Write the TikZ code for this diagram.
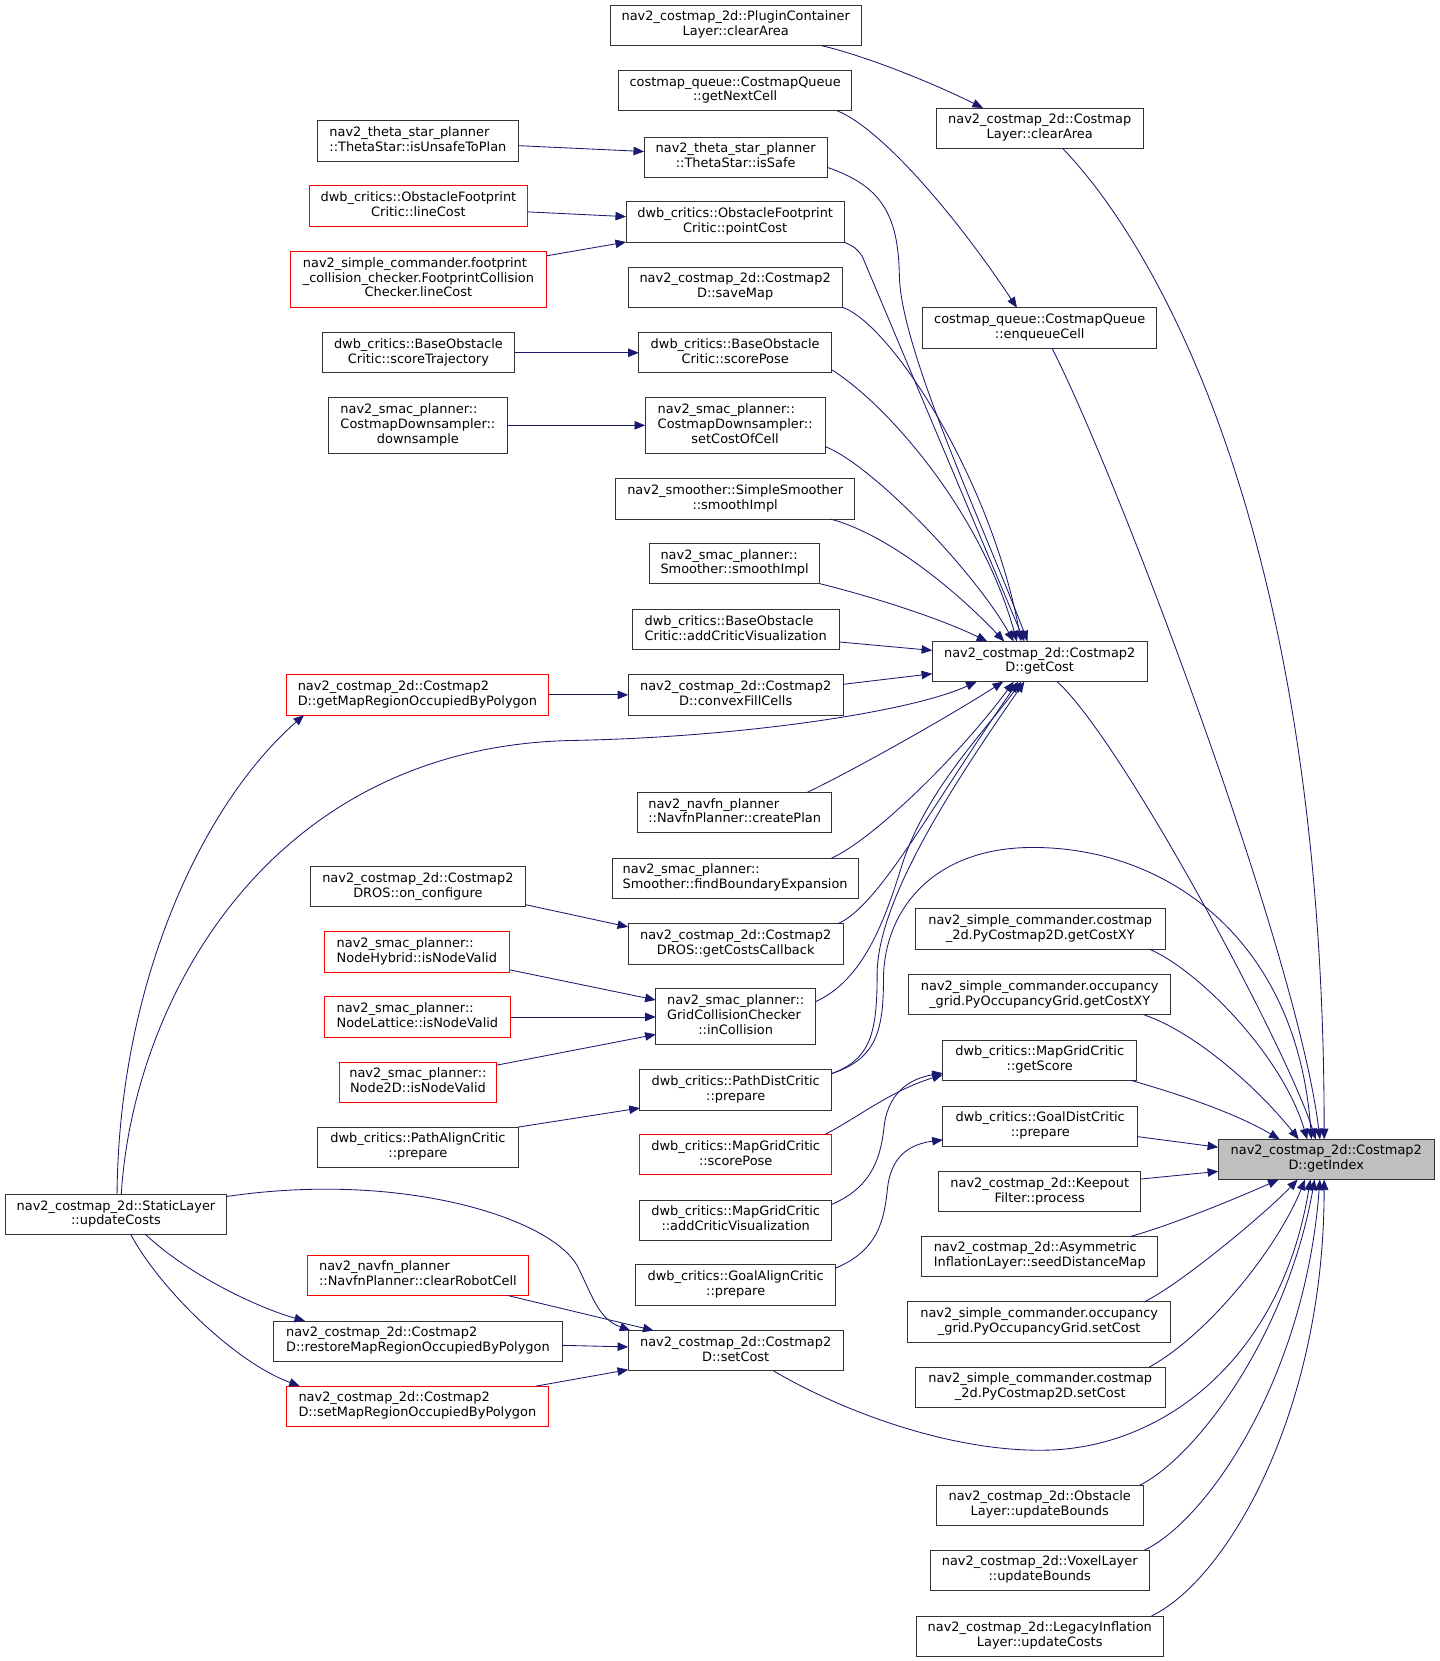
\documentclass[tikz,border=0pt]{standalone}
\usepackage{fontspec}
\setmainfont{DejaVu Sans}
\usetikzlibrary{arrows.meta}
\definecolor{edgeblue}{HTML}{191970}
\definecolor{boxgray}{HTML}{BFBFBF}
\definecolor{boxline}{HTML}{333333}
\newcommand{\dgfont}{\fontsize{12.2}{14}\selectfont}
\newcommand{\fnlabel}[2]{\begin{tabular}{@{}l@{}}#1\\\multicolumn{1}{@{}c@{}}{#2}\end{tabular}}
\begin{document}
\begin{tikzpicture}[x=1pt,y=-1pt,outer sep=0pt,
fn/.style={draw=boxline,line width=0.8pt,fill=white,rectangle,inner sep=1pt,minimum height=38pt,font=\dgfont},
fnred/.style={fn,draw=red},
fnthree/.style={minimum height=53pt},
call/.style={draw=edgeblue,line width=0.8pt,-{Triangle[length=10pt,width=8pt]}}]
\fill[white] (0,0) rectangle (1359,1568);
\useasboundingbox (0,0) rectangle (1359,1568);

\draw (694.5,24) node[fn,minimum width=237pt] (pclClear) {\fnlabel{nav2\_costmap\_2d::PluginContainer}{Layer::clearArea}};
\draw (694,85.5) node[fn,minimum width=220pt] (getNextCell) {\fnlabel{costmap\_queue::CostmapQueue}{::getNextCell}};
\draw (981.5,121) node[fn,minimum width=195pt] (clClear) {\fnlabel{nav2\_costmap\_2d::Costmap}{Layer::clearArea}};
\draw (394.5,133) node[fn,minimum width=189pt] (isUnsafe) {\fnlabel{nav2\_theta\_star\_planner}{::ThetaStar::isUnsafeToPlan}};
\draw (694.5,148.5) node[fn,minimum width=173pt] (isSafe) {\fnlabel{nav2\_theta\_star\_planner}{::ThetaStar::isSafe}};
\draw (395,194.5) node[fnred,minimum width=206pt] (ofLineCost) {\fnlabel{dwb\_critics::ObstacleFootprint}{Critic::lineCost}};
\draw (694,209.5) node[fn,minimum width=206pt] (pointCost) {\fnlabel{dwb\_critics::ObstacleFootprint}{Critic::pointCost}};
\draw (395,263.5) node[fnred,fnthree,minimum width=242pt] (fpLineCost) {\fnlabel{nav2\_simple\_commander.footprint\\\_collision\_checker.FootprintCollision}{Checker.lineCost}};
\draw (694,271) node[fn,minimum width=202pt] (saveMap) {\fnlabel{nav2\_costmap\_2d::Costmap2}{D::saveMap}};
\draw (981.5,309.5) node[fn,minimum width=221pt] (enqueueCell) {\fnlabel{costmap\_queue::CostmapQueue}{::enqueueCell}};
\draw (395,333) node[fn,minimum width=182pt] (scoreTraj) {\fnlabel{dwb\_critics::BaseObstacle}{Critic::scoreTrajectory}};
\draw (694,333) node[fn,minimum width=182pt] (scorePose) {\fnlabel{dwb\_critics::BaseObstacle}{Critic::scorePose}};
\draw (394.5,401.5) node[fn,fnthree,minimum width=169pt] (downsample) {\fnlabel{nav2\_smac\_planner::\\CostmapDownsampler::}{downsample}};
\draw (694,401.5) node[fn,fnthree,minimum width=170pt] (setCostOfCell) {\fnlabel{nav2\_smac\_planner::\\CostmapDownsampler::}{setCostOfCell}};
\draw (694,471) node[fn,minimum width=226pt] (simpleSmooth) {\fnlabel{nav2\_smoother::SimpleSmoother}{::smoothImpl}};
\draw (693.5,532) node[fn,minimum width=161pt] (smacSmooth) {\fnlabel{nav2\_smac\_planner::}{Smoother::smoothImpl}};
\draw (694.5,594.5) node[fn,minimum width=195pt] (baseVis) {\fnlabel{dwb\_critics::BaseObstacle}{Critic::addCriticVisualization}};
\draw (981.5,624.5) node[fn,minimum width=203pt] (getCost) {\fnlabel{nav2\_costmap\_2d::Costmap2}{D::getCost}};
\draw (394,656) node[fnred,minimum width=248pt] (getMapRegion) {\fnlabel{nav2\_costmap\_2d::Costmap2}{D::getMapRegionOccupiedByPolygon}};
\draw (694.5,656) node[fn,minimum width=203pt] (convexFill) {\fnlabel{nav2\_costmap\_2d::Costmap2}{D::convexFillCells}};
\draw (693.5,767) node[fn,minimum width=183pt] (createPlan) {\fnlabel{nav2\_navfn\_planner}{::NavfnPlanner::createPlan}};
\draw (694,829) node[fn,minimum width=232pt] (findBoundary) {\fnlabel{nav2\_smac\_planner::}{Smoother::findBoundaryExpansion}};
\draw (394.5,837) node[fn,minimum width=203pt] (onConfigure) {\fnlabel{nav2\_costmap\_2d::Costmap2}{DROS::on\_configure}};
\draw (982,877) node[fn,minimum width=236pt] (pyCmGetXY) {\fnlabel{nav2\_simple\_commander.costmap}{\_2d.PyCostmap2D.getCostXY}};
\draw (694.5,891) node[fn,minimum width=203pt] (getCostsCb) {\fnlabel{nav2\_costmap\_2d::Costmap2}{DROS::getCostsCallback}};
\draw (393.5,898.5) node[fnred,minimum width=175pt] (nodeHybrid) {\fnlabel{nav2\_smac\_planner::}{NodeHybrid::isNodeValid}};
\draw (981.5,939) node[fn,minimum width=247pt] (pyOccGetXY) {\fnlabel{nav2\_simple\_commander.occupancy}{\_grid.PyOccupancyGrid.getCostXY}};
\draw (694.5,959.5) node[fn,fnthree,minimum width=151pt] (inCollision) {\fnlabel{nav2\_smac\_planner::\\GridCollisionChecker}{::inCollision}};
\draw (394,960) node[fnred,minimum width=176pt] (nodeLattice) {\fnlabel{nav2\_smac\_planner::}{NodeLattice::isNodeValid}};
\draw (981.5,1001) node[fn,minimum width=183pt] (getScore) {\fnlabel{dwb\_critics::MapGridCritic}{::getScore}};
\draw (394.5,1021.5) node[fnred,minimum width=149pt] (node2D) {\fnlabel{nav2\_smac\_planner::}{Node2D::isNodeValid}};
\draw (694.5,1029) node[fn,minimum width=181pt] (pathDist) {\fnlabel{dwb\_critics::PathDistCritic}{::prepare}};
\draw (982,1063) node[fn,minimum width=184pt] (goalDist) {\fnlabel{dwb\_critics::GoalDistCritic}{::prepare}};
\draw (394.5,1083) node[fn,minimum width=189pt] (pathAlign) {\fnlabel{dwb\_critics::PathAlignCritic}{::prepare}};
\draw (694.5,1090) node[fnred,minimum width=181pt] (mgScorePose) {\fnlabel{dwb\_critics::MapGridCritic}{::scorePose}};
\draw (1252,1094.5) node[fn,fill=boxgray,minimum width=204pt] (getIndex) {\fnlabel{nav2\_costmap\_2d::Costmap2}{D::getIndex}};
\draw (981.5,1125) node[fn,minimum width=191pt] (keepout) {\fnlabel{nav2\_costmap\_2d::Keepout}{Filter::process}};
\draw (109.5,1146.5) node[fn,minimum width=209pt] (staticLayer) {\fnlabel{nav2\_costmap\_2d::StaticLayer}{::updateCosts}};
\draw (694.5,1152) node[fn,minimum width=181pt] (mgAddVis) {\fnlabel{dwb\_critics::MapGridCritic}{::addCriticVisualization}};
\draw (981.5,1186) node[fn,minimum width=223pt] (seedDist) {\fnlabel{nav2\_costmap\_2d::Asymmetric}{InflationLayer::seedDistanceMap}};
\draw (394.5,1204) node[fnred,minimum width=209pt] (clearRobot) {\fnlabel{nav2\_navfn\_planner}{::NavfnPlanner::clearRobotCell}};
\draw (694.5,1213) node[fn,minimum width=189pt] (goalAlign) {\fnlabel{dwb\_critics::GoalAlignCritic}{::prepare}};
\draw (981,1248) node[fn,minimum width=248pt] (pyOccSet) {\fnlabel{nav2\_simple\_commander.occupancy}{\_grid.PyOccupancyGrid.setCost}};
\draw (394.5,1266) node[fn,minimum width=273pt] (restoreMap) {\fnlabel{nav2\_costmap\_2d::Costmap2}{D::restoreMapRegionOccupiedByPolygon}};
\draw (694.5,1275) node[fn,minimum width=203pt] (setCost) {\fnlabel{nav2\_costmap\_2d::Costmap2}{D::setCost}};
\draw (982,1309.5) node[fn,minimum width=236pt] (pyCmSet) {\fnlabel{nav2\_simple\_commander.costmap}{\_2d.PyCostmap2D.setCost}};
\draw (394,1327.5) node[fnred,minimum width=248pt] (setMapRegion) {\fnlabel{nav2\_costmap\_2d::Costmap2}{D::setMapRegionOccupiedByPolygon}};
\draw (981.5,1421) node[fn,minimum width=195pt] (obstBounds) {\fnlabel{nav2\_costmap\_2d::Obstacle}{Layer::updateBounds}};
\draw (981.5,1482.5) node[fn,minimum width=207pt] (voxelBounds) {\fnlabel{nav2\_costmap\_2d::VoxelLayer}{::updateBounds}};
\draw (981.5,1544.5) node[fn,minimum width=233pt] (legacyCosts) {\fnlabel{nav2\_costmap\_2d::LegacyInflation}{Layer::updateCosts}};

\draw[call] ([xshift=80.5pt]pclClear.south) .. controls (815,52) and (880,78) .. ([xshift=-53.5pt]clClear.north);
\draw[call] ([xshift=21.5pt]clClear.south) .. controls (1090,230) and (1250,500) .. ([xshift=-2pt]getIndex.north);
\draw[call] ([xshift=96pt]getNextCell.south) .. controls (830,120) and (900,200) .. ([xshift=-21.5pt]enqueueCell.north);
\draw[call] ([xshift=11.5pt]enqueueCell.south) .. controls (1055,450) and (1225,900) .. ([xshift=-6pt]getIndex.north);
\draw[call] ([yshift=-4.5pt]isUnsafe.east) -- ([yshift=5.5pt]isSafe.west);
\draw[call] ([yshift=-9.5pt]isSafe.east) .. controls (830,175) and (848,200) .. (849,260) .. controls (850,330) and (930,500) .. ([xshift=-11.5pt]getCost.north);
\draw[call] ([yshift=-5.5pt]ofLineCost.east) -- ([yshift=5pt]pointCost.west);
\draw[call] ([yshift=-4.5pt]fpLineCost.north east) -- (pointCost.south west);
\draw[call] (pointCost.south east) .. controls (808,234) .. (814,242) -- ([xshift=-14.5pt]getCost.north);
\draw[call] (saveMap.south east) .. controls (840,305) and (935,450) .. ([xshift=-17.5pt]getCost.north);
\draw[call] (scoreTraj.east) -- (scorePose.west);
\draw[call] ([yshift=-16pt]scorePose.east) .. controls (835,380) and (925,480) .. ([xshift=-21.5pt]getCost.north);
\draw[call] (downsample.east) -- (setCostOfCell.west);
\draw[call] ([yshift=-20pt]setCostOfCell.east) .. controls (825,440) and (920,540) .. ([xshift=-24.5pt]getCost.north);
\draw[call] ([xshift=90pt]simpleSmooth.south) .. controls (840,505) and (905,560) .. ([xshift=-33.5pt]getCost.north);
\draw[call] (smacSmooth.south east) .. controls (830,565) and (890,585) .. ([xshift=-49.5pt]getCost.north);
\draw[call] ([yshift=-11.5pt]baseVis.east) -- ([yshift=10.5pt]getCost.west);
\draw[call] ([yshift=10pt]convexFill.east) -- ([yshift=-11.5pt]getCost.west);
\draw[call] (getMapRegion.east) -- (convexFill.west);
\draw[call] ([xshift=1pt]staticLayer.north) .. controls (112,930) and (190,760) .. ([xshift=17pt]getMapRegion.south west);
\draw[call] ([xshift=5pt]staticLayer.north) .. controls (125,950) and (250,705) .. (540,699) .. controls (700,696) and (860,672) .. ([xshift=-59.5pt]getCost.south);
\draw[call] ([xshift=68.5pt]createPlan.north) .. controls (800,730) and (890,680) .. ([xshift=-34.5pt]getCost.south);
\draw[call] ([xshift=91pt]findBoundary.north) .. controls (820,795) and (900,720) .. ([xshift=-24.5pt]getCost.south);
\draw[call] ([xshift=96.5pt]getCostsCb.north) .. controls (830,855) and (880,760) .. ([xshift=-20.5pt]getCost.south);
\draw[call] ([yshift=2pt]onConfigure.south east) -- ([yshift=-3pt]getCostsCb.north west);
\draw[call] ([yshift=14pt]inCollision.east) .. controls (815,925) and (835,870) .. (852,815) .. controls (875,745) and (930,690) .. ([xshift=-17.5pt]getCost.south);
\draw[call] ([yshift=15.5pt]pathDist.east) .. controls (822,1000) and (828,975) .. (828,920) .. controls (828,850) and (900,740) .. ([xshift=-14.5pt]getCost.south);
\draw[call] ([yshift=15.5pt]pathDist.east) .. controls (826,1000) and (834,975) .. (834,925) .. controls (834,860) and (880,800) .. (975,800) .. controls (1105,800) and (1225,890) .. ([xshift=-14pt]getIndex.north);
\draw[call] ([yshift=2pt]nodeHybrid.south east) -- ([yshift=15.5pt]inCollision.west);
\draw[call] (nodeLattice.east) -- (nodeLattice.east -| inCollision.west);
\draw[call] ([yshift=-3pt]node2D.north east) -- ([yshift=-17pt]inCollision.west);
\draw[call] (pathAlign.north east) -- ([yshift=2pt]pathDist.south west);
\draw[call] ([xshift=84pt]mgScorePose.north) .. controls (810,1055) and (840,1030) .. ([yshift=5.5pt]getScore.south west);
\draw[call] ([yshift=15pt]mgAddVis.east) .. controls (825,1120) and (832,1090) .. (835,1060) .. controls (840,1030) and (860,1018) .. ([yshift=7pt]getScore.south west);
\draw[call] ([xshift=-5pt]getScore.south east) .. controls (1110,1032) and (1165,1050) .. ([xshift=-44pt]getIndex.north);
\draw[call] ([yshift=16pt]goalAlign.east) .. controls (830,1180) and (835,1150) .. (838,1120) .. controls (842,1090) and (860,1080) .. ([yshift=6pt]goalDist.south west);
\draw[call] ([yshift=-10pt]goalDist.east) -- ([yshift=11.5pt]getIndex.west);
\draw[call] ([yshift=12pt]keepout.east) -- ([yshift=-11.3pt]getIndex.west);
\draw[call] ([xshift=86.5pt]seedDist.north) .. controls (1110,1155) and (1170,1130) .. ([xshift=-45pt]getIndex.south);
\draw[call] ([xshift=99pt]pyOccSet.north) .. controls (1115,1212) and (1195,1145) .. ([xshift=-27pt]getIndex.south);
\draw[call] ([xshift=103pt]pyCmSet.north) .. controls (1140,1260) and (1205,1180) .. ([xshift=-20pt]getIndex.south);
\draw[call] ([xshift=35.5pt]setCost.south) .. controls (800,1335) and (900,1370) .. (985,1369) .. controls (1100,1368) and (1210,1280) .. ([xshift=-15pt]getIndex.south);
\draw[call] ([xshift=94.5pt]obstBounds.north) .. controls (1130,1375) and (1215,1260) .. ([xshift=-11pt]getIndex.south);
\draw[call] ([xshift=98.5pt]voxelBounds.north) .. controls (1140,1435) and (1232,1300) .. ([xshift=-6pt]getIndex.south);
\draw[call] ([xshift=105.5pt]legacyCosts.north) .. controls (1160,1490) and (1250,1330) .. ([xshift=-2pt]getIndex.south);
\draw[call] ([xshift=103pt]pyCmGetXY.south) .. controls (1130,915) and (1210,995) .. ([xshift=-18pt]getIndex.north);
\draw[call] ([xshift=98.5pt]pyOccGetXY.south) .. controls (1130,975) and (1190,1030) .. ([xshift=-26pt]getIndex.north);
\draw[call] ([xshift=16.5pt]getCost.south) .. controls (1060,700) and (1215,990) .. ([xshift=-10pt]getIndex.north);
\draw[call] ([yshift=-2pt]staticLayer.north east) .. controls (380,1105) and (520,1150) .. (545,1195) .. controls (560,1225) and (565,1245) .. ([xshift=2pt]setCost.north west);
\draw[call] ([xshift=28pt]staticLayer.south) .. controls (180,1205) and (245,1235) .. ([xshift=30pt]restoreMap.north west);
\draw[call] ([xshift=14pt]staticLayer.south) .. controls (150,1215) and (220,1285) .. ([xshift=13pt]setMapRegion.north west);
\draw[call] ([xshift=85pt]clearRobot.south) -- ([xshift=24pt]setCost.north west);
\draw[call] ([yshift=-4pt]restoreMap.east) -- ([yshift=3.5pt]setCost.west);
\draw[call] ([xshift=112pt]setMapRegion.north) -- ([yshift=1pt]setCost.south west);

\end{tikzpicture}
\end{document}
